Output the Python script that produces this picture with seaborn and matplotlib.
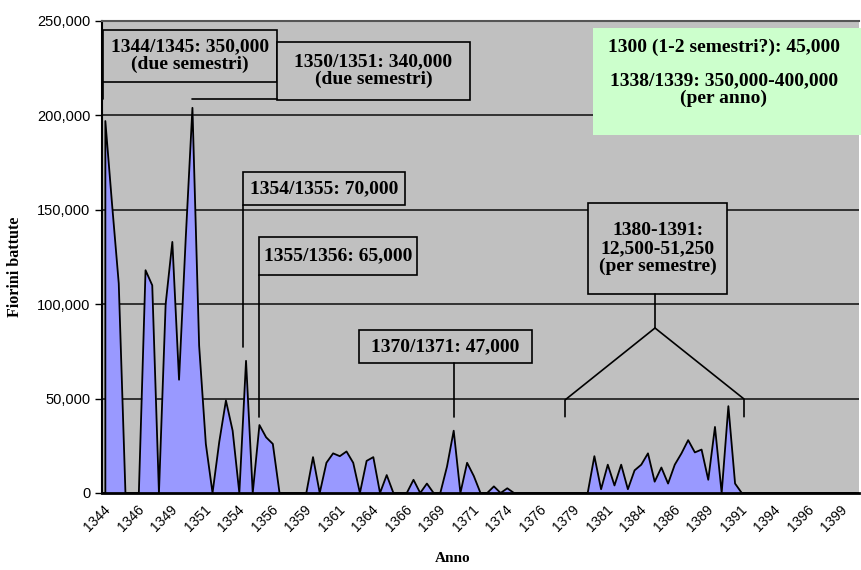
import numpy as np
import pandas as pd
import matplotlib
matplotlib.use("Agg")
import matplotlib.pyplot as plt
import matplotlib.transforms as mtransforms
from matplotlib.patches import Rectangle
import seaborn as sns

# fiorini coniati per semestre, a partire dal primo semestre del 1344
start_year = 1344
fiorini = [
    197000, 153000, 111000, 0, 0, 0, 118000, 110000, 0, 100000,
    133000, 60000, 135000, 204000, 78000, 26000, 0, 27000, 49000, 33000,
    0, 70000, 0, 36000, 29500, 26000, 0, 0, 0, 0,
    0, 19000, 0, 16000, 21000, 19500, 22000, 16000, 0, 17000,
    19000, 0, 9500, 0, 0, 0, 7000, 0, 5000, 0,
    0, 14000, 33000, 0, 16000, 9000, 0, 0, 3500, 0,
    2500, 0, 0, 0, 0, 0, 0, 0, 0, 0,
    0, 0, 0, 19500, 2000, 15000, 4000, 15000, 2000, 12000,
    15000, 21000, 6000, 13500, 5000, 15000, 21000, 28000, 21500, 23000,
    7000, 35000, 0, 46000, 5000, 0, 0, 0, 0, 0,
    0, 0, 0, 0, 0, 0, 0, 0, 0, 0,
    0, 0, 0,
]
y_ticks = [0, 50000, 100000, 150000, 200000, 250000]
label_step = 5

callout_texts = [
    "1344/1345: 350,000\n(due semestri)",
    "1350/1351: 340,000\n(due semestri)",
    "1354/1355: 70,000",
    "1355/1356: 65,000",
    "1370/1371: 47,000",
    "1380-1391:\n12,500-51,250\n(per semestre)",
]
note_top = "1300 (1-2 semestri?): 45,000"
note_bottom = "1338/1339: 350,000-400,000\n(per anno)"

n = len(fiorini)
df = pd.DataFrame({"semestre": np.arange(n), "fiorini": fiorini})
outline = pd.DataFrame({
    "semestre": np.r_[0, df["semestre"]],
    "fiorini": np.r_[0, df["fiorini"]],
})

sns.set_style("white")
plt.rcParams["font.family"] = ["Liberation Sans", "DejaVu Sans"]
plt.rcParams.update({"text.color": "black", "axes.labelcolor": "black",
                     "xtick.color": "black", "ytick.color": "black"})
serif = dict(family="Liberation Serif", weight="bold")

fig = plt.figure(figsize=(8.61, 5.70), dpi=100)
ax = fig.add_axes([102 / 861, 77 / 570, 757 / 861, 472 / 570])
ax.set_facecolor("#C0C0C0")

ax.fill_between(df["semestre"], df["fiorini"], 0, color="#9999FF", lw=0, zorder=2)
sns.lineplot(data=outline, x="semestre", y="fiorini", sort=False, estimator=None,
             color="black", lw=1.3, ax=ax, zorder=3)

ax.set_xlim(-0.5, n - 0.5)
ax.set_ylim(0, 250000)
ax.set_yticks(y_ticks)
ax.set_yticklabels([f"{v:,}" for v in y_ticks])
ax.yaxis.grid(True, color="#1a1a1a", lw=1.2)
ax.set_axisbelow(True)

major = df["semestre"][::label_step]
ax.set_xticks(major)
ax.set_xticklabels([str(start_year + i // 2) for i in major],
                   rotation=45, ha="right", va="center", rotation_mode="anchor")
ax.set_xticks(np.arange(-0.5, n, 1), minor=True)
ax.tick_params(axis="x", which="major", length=0, pad=10.5, labelsize=10)
ax.tick_params(axis="x", which="minor", length=4, width=1, direction="out", color="black")
ax.tick_params(axis="y", length=5, width=1, direction="out", color="black", labelsize=10.5, left=True)
shift = mtransforms.ScaledTranslation(3 / 100, 0, fig.dpi_scale_trans)
for lab in ax.get_xticklabels():
    lab.set_transform(lab.get_transform() + shift)

for side in ["left", "bottom"]:
    ax.spines[side].set_color("black")
ax.spines["left"].set_linewidth(1.5)
ax.spines["bottom"].set_linewidth(2)
ax.spines["top"].set_color("#555555")
ax.spines["top"].set_linewidth(1.5)
ax.spines["right"].set_visible(False)

ax.set_xlabel("Anno", fontsize=11, **serif)
ax.set_ylabel("Fiorini battute", fontsize=11.5, **serif)
ax.xaxis.set_label_coords((453 - 102) / 757, (493 - 552) / 472)
ax.yaxis.set_label_coords((23 - 102) / 757, (493 - 267) / 472)


# callout geometry measured in reference pixels -> data coordinates
def dx(p):
    return -0.5 + (p - 102) * n / 757


def dy(p):
    return (493 - p) * 250000 / 472


boxes = [
    (102.7, 30, 276.7, 81.7),
    (277, 42, 470, 100),
    (242.7, 172, 405, 205),
    (259, 237, 417, 275),
    (359.3, 330, 531.7, 363.3),
    (588, 203, 727, 294),
]
leaders = [
    [(103.3, 81.7), (103.3, 99.3)],
    [(192, 99.3), (277, 99.3)],
    [(242.7, 205), (242.7, 346.7)],
    [(259, 275), (259, 416.7)],
    [(454.3, 363.3), (454.3, 416.7)],
    [(565, 416.7), (565, 400), (655, 328), (655, 294)],
    [(655, 328), (744, 399), (744, 416.7)],
]

for (x0, y0, x1, y1), txt in zip(boxes, callout_texts):
    ax.add_patch(Rectangle((dx(x0), dy(y1)), dx(x1) - dx(x0), dy(y0) - dy(y1),
                           facecolor="#C0C0C0", edgecolor="black", lw=1.2, zorder=5))
    ax.text(dx((x0 + x1) / 2), dy((y0 + y1) / 2), txt, ha="center", va="center",
            fontsize=14, linespacing=1.05, zorder=6, **serif)

for pts in leaders:
    xs, ys = zip(*pts)
    ax.plot([dx(p) for p in xs], [dy(p) for p in ys], color="black", lw=1.2,
            zorder=5, clip_on=False)

ax.add_patch(Rectangle((dx(593.3), dy(135)), dx(861) - dx(593.3), dy(28.3) - dy(135),
                       facecolor="#CCFFCC", edgecolor="none", zorder=5, clip_on=False))
ax.text(dx(724), dy(47), note_top, ha="center", va="center", fontsize=14, zorder=6, **serif)
ax.text(dx(724), dy(90), note_bottom, ha="center", va="center", fontsize=14,
        linespacing=1.05, zorder=6, **serif)

fig.savefig("out.png", dpi=100)
